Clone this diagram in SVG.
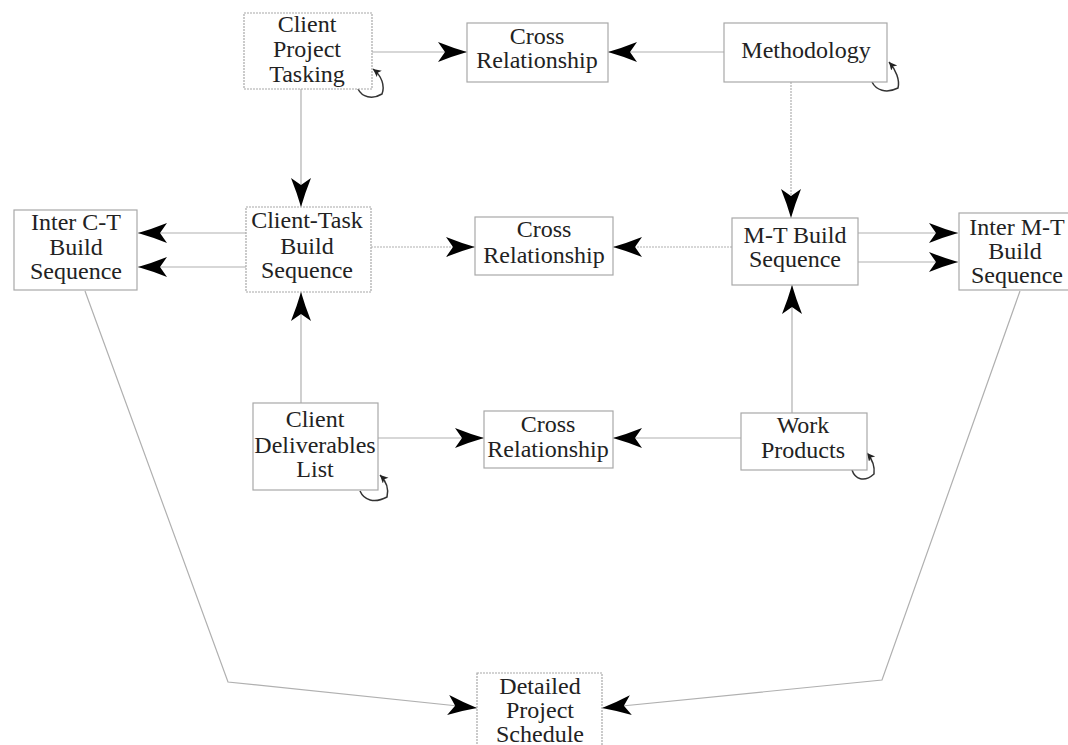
<svg xmlns="http://www.w3.org/2000/svg" width="1068" height="745" viewBox="0 0 1068 745">
<style>
.box{fill:#fff;stroke:#a8a8a8;stroke-width:1.2}
.dot{stroke-dasharray:2,1}
.t{font-family:"Liberation Serif","Times New Roman",serif;font-size:24px;fill:#222;text-anchor:middle}
.c{fill:none;stroke:#b0b0b0;stroke-width:1.2}
.loop{fill:none;stroke:#333;stroke-width:1.5}
</style>
<defs>
<marker id="ah" markerUnits="userSpaceOnUse" markerWidth="34" markerHeight="24" refX="30" refY="11" orient="auto">
<path d="M30,11 Q16,7 1,1 L8,11 L1,21 Q16,15 30,11 Z" fill="#000"/>
</marker>
<marker id="sh" markerUnits="userSpaceOnUse" markerWidth="10" markerHeight="10" refX="8" refY="4" orient="auto">
<path d="M8,4 L0,0 L2,4 L0,8 Z" fill="#222"/>
</marker>
</defs>
<g id="connectors">
<path class="c" d="M372,52 L467,52" marker-end="url(#ah)"/>
<path class="c" d="M724,52 L608,52" marker-end="url(#ah)"/>
<path class="c" d="M301,89 L301,207" marker-end="url(#ah)"/>
<path class="c dot" d="M791,82 L791,218" marker-end="url(#ah)"/>
<path class="c dot" d="M371,247 L475,247" marker-end="url(#ah)"/>
<path class="c dot" d="M732,247 L613,247" marker-end="url(#ah)"/>
<path class="c" d="M246,233 L138,233" marker-end="url(#ah)"/>
<path class="c" d="M246,267 L138,267" marker-end="url(#ah)"/>
<path class="c" d="M858,233 L958,233" marker-end="url(#ah)"/>
<path class="c" d="M858,262 L958,262" marker-end="url(#ah)"/>
<path class="c" d="M301,403 L301,292" marker-end="url(#ah)"/>
<path class="c" d="M792,413 L792,285" marker-end="url(#ah)"/>
<path class="c" d="M378,438 L484,438" marker-end="url(#ah)"/>
<path class="c" d="M741,438 L613,438" marker-end="url(#ah)"/>
<path class="c" d="M85,291 L228,682 L477,708" marker-end="url(#ah)"/>
<path class="c" d="M1020,291 L882,680 L602,708" marker-end="url(#ah)"/>
<path class="loop" d="M358,89 C362,97 372,100 382,94 C385,86 382,76 373,69" marker-end="url(#sh)"/>
<path class="loop" d="M872,82 C876,90 886,94 898,88 C900,80 896,70 889,62" marker-end="url(#sh)"/>
<path class="loop" d="M360,491 C364,500 374,504 387,497 C389,489 386,481 380,475" marker-end="url(#sh)"/>
<path class="loop" d="M852,470 C855,479 864,483 874,474 C875,466 872,459 867,453" marker-end="url(#sh)"/>
</g>
<g id="n-cpt">
<rect class="box dot" x="244" y="13" width="128" height="76"/>
<text class="t" x="307" y="32">Client</text>
<text class="t" x="307" y="57">Project</text>
<text class="t" x="307" y="82">Tasking</text>
</g>
<g id="n-cross-top">
<rect class="box" x="467" y="23" width="141" height="59"/>
<text class="t" x="537" y="44">Cross</text>
<text class="t" x="537" y="68">Relationship</text>
</g>
<g id="n-methodology">
<rect class="box" x="724" y="23" width="163" height="59"/>
<text class="t" x="806" y="58">Methodology</text>
</g>
<g id="n-interct">
<rect class="box" x="14" y="210" width="123" height="80"/>
<text class="t" x="76" y="230">Inter  C-T</text>
<text class="t" x="76" y="255">Build</text>
<text class="t" x="76" y="279">Sequence</text>
</g>
<g id="n-ctbs">
<rect class="box dot" x="246" y="207" width="125" height="85"/>
<text class="t" x="307" y="228">Client-Task</text>
<text class="t" x="307" y="254">Build</text>
<text class="t" x="307" y="278">Sequence</text>
</g>
<g id="n-cross-mid">
<rect class="box" x="475" y="217" width="138" height="58"/>
<text class="t" x="544" y="237">Cross</text>
<text class="t" x="544" y="263">Relationship</text>
</g>
<g id="n-mtbs">
<rect class="box" x="732" y="218" width="126" height="67"/>
<text class="t" x="795" y="243">M-T  Build</text>
<text class="t" x="795" y="267">Sequence</text>
</g>
<g id="n-intermt">
<rect class="box" x="959" y="213" width="112" height="77"/>
<text class="t" x="1017" y="235">Inter  M-T</text>
<text class="t" x="1015" y="259">Build</text>
<text class="t" x="1017" y="283">Sequence</text>
</g>
<g id="n-cdl">
<rect class="box" x="253" y="403" width="125" height="87"/>
<text class="t" x="315" y="427">Client</text>
<text class="t" x="315" y="453">Deliverables</text>
<text class="t" x="315" y="477">List</text>
</g>
<g id="n-cross-bot">
<rect class="box" x="484" y="411" width="129" height="57"/>
<text class="t" x="548" y="432">Cross</text>
<text class="t" x="548" y="457">Relationship</text>
</g>
<g id="n-wp">
<rect class="box" x="741" y="413" width="126" height="57"/>
<text class="t" x="803" y="433">Work</text>
<text class="t" x="803" y="458">Products</text>
</g>
<g id="n-dps">
<rect class="box dot" x="477" y="673" width="125" height="80"/>
<text class="t" x="540" y="694">Detailed</text>
<text class="t" x="540" y="718">Project</text>
<text class="t" x="540" y="742">Schedule</text>
</g>
</svg>
